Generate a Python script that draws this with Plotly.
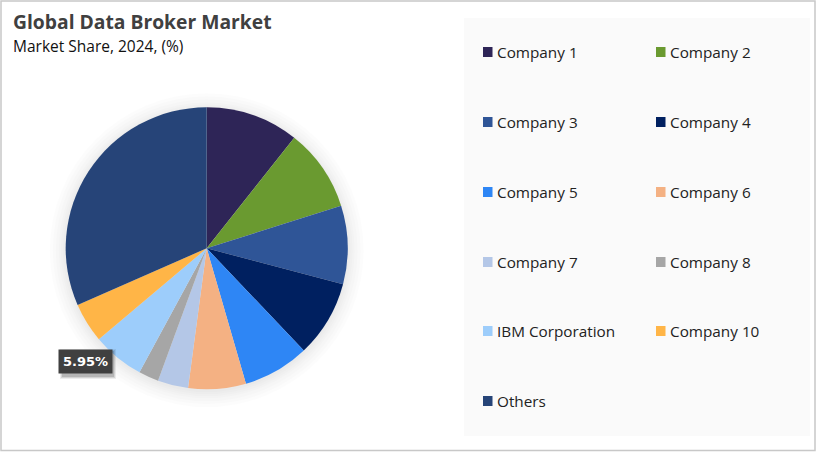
import plotly.graph_objects as go

# market share, clockwise from 12 o'clock
companies = ['Company 1', 'Company 2', 'Company 3', 'Company 4', 'Company 5', 'Company 6',
             'Company 7', 'Company 8', 'IBM Corporation', 'Company 10', 'Others']
shares = [10.66, 9.45, 9.0, 8.8, 7.6, 6.6, 3.5, 2.3, 5.95, 4.55, 31.59]
colors = ['#2E2557', '#6A9A30', '#2F5597', '#002060', '#2E86F5', '#F4B183',
          '#B4C7E7', '#A6A6A6', '#9DCDFB', '#FFB547', '#264478']

W = 817
H = 452
font_name = 'Open Sans'

# pie position in pixels
cx = 206.7
cy = 248.3
r = 141


def px(x):
    return x / W


def py(y):
    return 1 - y / H


fig = go.Figure()

fig.add_trace(go.Pie(
    labels=companies,
    values=shares,
    sort=False,
    direction='clockwise',
    rotation=0,
    marker=dict(colors=colors, line=dict(width=0)),
    textinfo='none',
    hoverinfo='label+percent',
    showlegend=False,
    domain=dict(x=[px(cx - r), px(cx + r)], y=[py(cy + r), py(cy - r)])
))

shapes = []
annotations = []

# outer border and legend panel
shapes.append(dict(type='rect', xref='paper', yref='paper', x0=px(1), x1=px(815), y0=py(450.5), y1=py(1),
                   line=dict(color='#C8C8C8', width=1.5), fillcolor='white', layer='below'))
shapes.append(dict(type='rect', xref='paper', yref='paper', x0=px(464), x1=px(810), y0=py(436), y1=py(18),
                   line=dict(width=0), fillcolor='#FAFAFA', layer='below'))

# soft shadow round the pie
for grow in [16, 13, 10, 7, 5, 3, 1]:
    shapes.append(dict(type='circle', xref='paper', yref='paper',
                       x0=px(cx - r - grow), x1=px(cx + r + grow),
                       y0=py(cy + 2 + r + grow), y1=py(cy + 2 - r - grow),
                       line=dict(width=0), fillcolor='rgba(0,0,0,0.012)', layer='below'))

# legend, two columns, drawn by hand because of the wide row gap
rows = [52, 122, 192, 262, 331, 401]
cols = [483, 656]
for i, name in enumerate(companies):
    x = cols[i % 2]
    y = rows[i // 2]
    shapes.append(dict(type='rect', xref='paper', yref='paper', x0=px(x), x1=px(x + 9.5),
                       y0=py(y + 5), y1=py(y - 5), line=dict(width=0), fillcolor=colors[i]))
    annotations.append(dict(text=name, xref='paper', yref='paper', x=px(x + 12), y=py(y), xanchor='left',
                            yanchor='middle', showarrow=False, font=dict(family=font_name, size=15.3, color='#222222')))

# titles
annotations.append(dict(text='<b>Global Data Broker Market</b>', xref='paper', yref='paper', x=px(11), y=py(22),
                        xanchor='left', yanchor='middle', showarrow=False,
                        font=dict(family=font_name, size=19.3, color='#404040')))
annotations.append(dict(text='Market Share, 2024, (%)', xref='paper', yref='paper', x=px(11), y=py(46),
                        xanchor='left', yanchor='middle', showarrow=False,
                        font=dict(family=font_name, size=15.5, color='#111111')))

# data label for IBM with its shadow
for grow, alpha in [(2, 0.07), (1, 0.1), (0, 0.14)]:
    shapes.append(dict(type='rect', xref='paper', yref='paper', x0=px(62 - grow), x1=px(114 + grow),
                       y0=py(377 + grow), y1=py(351 - grow),
                       line=dict(width=0), fillcolor='rgba(0,0,0,%s)' % alpha))
annotations.append(dict(text='<b>%.2f%%</b>' % shares[8], xref='paper', yref='paper', x=px(85), y=py(361),
                        xanchor='center', yanchor='middle', showarrow=False, bgcolor='#404040', borderpad=4,
                        font=dict(family='DejaVu Sans', size=13, color='white')))

fig.update_layout(
    width=W,
    height=H,
    margin=dict(l=0, r=0, t=0, b=0),
    paper_bgcolor='white',
    shapes=shapes,
    annotations=annotations,
    showlegend=False
)

# the page's default body margin would push the chart 8px in
fig.write_html("out.html", config=dict(displayModeBar=False),
               post_script="document.body.style.margin='0';document.body.style.overflow='hidden';")
